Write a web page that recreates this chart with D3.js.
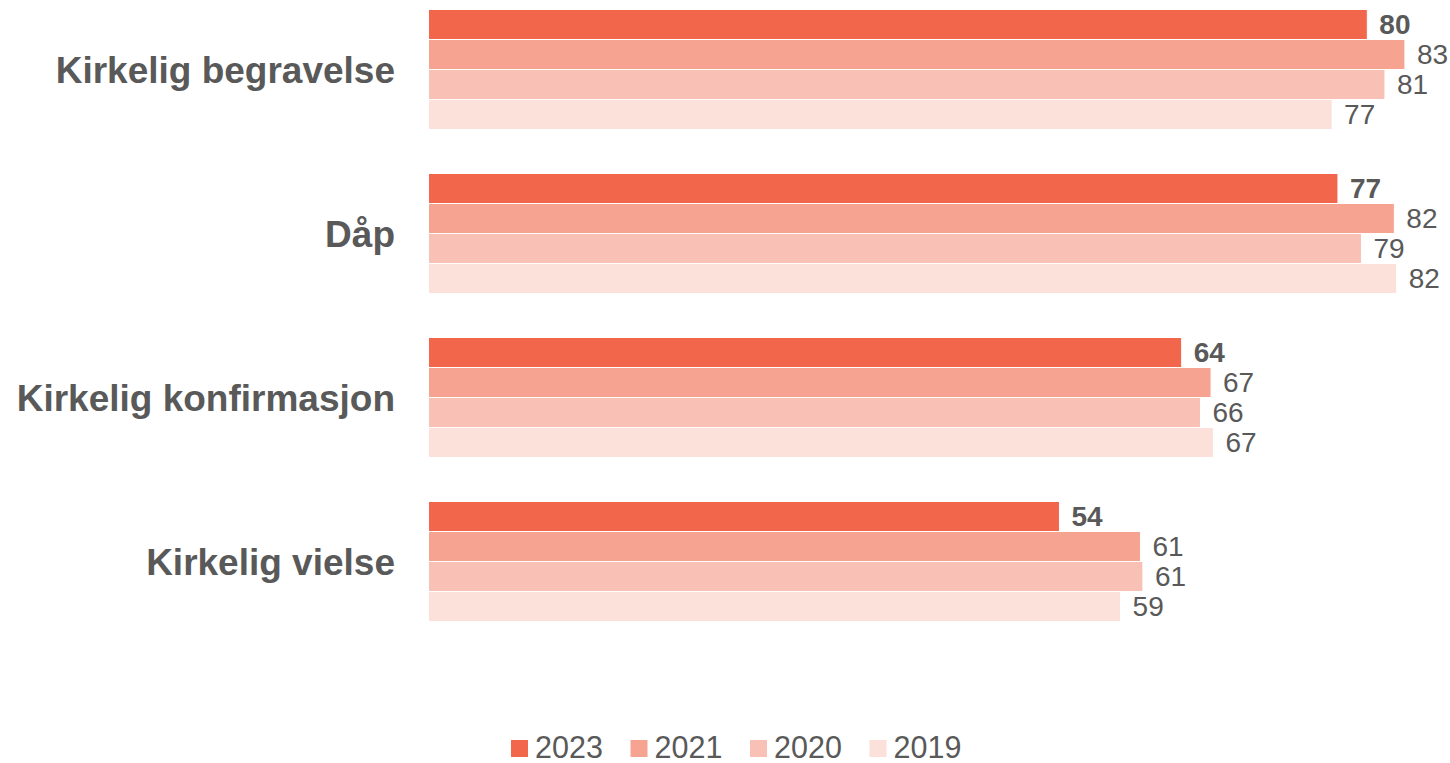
<!DOCTYPE html>
<html><head><meta charset="utf-8">
<script src="https://cdn.jsdelivr.net/npm/d3@7"></script>
<style>body{margin:0;background:#fff;}svg{display:block;font-family:"Liberation Sans",Arial,sans-serif;}</style>
</head><body>
<svg id="c" width="1450" height="763"></svg>
<script>
const categories = ["Kirkelig begravelse", "Dåp", "Kirkelig konfirmasjon", "Kirkelig vielse"];
const series = ["2023", "2021", "2020", "2019"];
const v2023 = [79.9, 77.4, 64.1, 53.7];
const v2021 = [83.1, 82.2, 66.6, 60.6];
const v2020 = [81.4, 79.4, 65.7, 60.8];
const v2019 = [76.9, 82.4, 66.8, 58.9];
const colors = ["#F2664B", "#F6A392", "#F9C1B5", "#FCE0DA"];

const values = [v2023, v2021, v2020, v2019];
const svg = d3.select("#c");
const x = d3.scaleLinear().domain([0, 100]).range([428.5, 428.5 + 1175]);
const y = d3.scaleBand().domain(categories).range([-12.5, 643.5]).paddingInner(44/164).paddingOuter(22/164);
const ys = d3.scaleBand().domain(series).range([0, y.bandwidth()]);

const g = svg.append("g");
categories.forEach((cat, ci) => {
  const gy = y(cat);
  series.forEach((s, si) => {
    const v = values[si][ci];
    g.append("rect")
      .attr("x", x(0)).attr("y", gy + ys(s))
      .attr("width", x(v) - x(0)).attr("height", ys.bandwidth())
      .attr("fill", colors[si]).attr("stroke", "#fff").attr("stroke-width", 1);
    g.append("text")
      .attr("x", x(v) + 12).attr("y", gy + ys(s) + ys.bandwidth() / 2)
      .attr("dy", "0.35em")
      .attr("font-size", 28).attr("fill", "#595959")
      .attr("font-weight", si === 0 ? "bold" : "normal")
      .text(d3.format(".0f")(v));
  });
  g.append("text")
    .attr("x", 395).attr("y", gy + y.bandwidth() / 2)
    .attr("dy", "0.36em").attr("text-anchor", "end")
    .attr("font-size", 37).attr("font-weight", "bold").attr("fill", "#595959")
    .text(cat);
});

const legend = svg.append("g");
const lx = d3.scalePoint().domain(series).range([511, 511 + 3 * 119.5]);
series.forEach((s, si) => {
  legend.append("rect").attr("x", lx(s)).attr("y", 740).attr("width", 17).attr("height", 17).attr("fill", colors[si]);
  legend.append("text").attr("x", lx(s) + 24).attr("y", 758)
    .attr("font-size", 30.5).attr("fill", "#595959").text(s);
});
</script>
</body></html>
